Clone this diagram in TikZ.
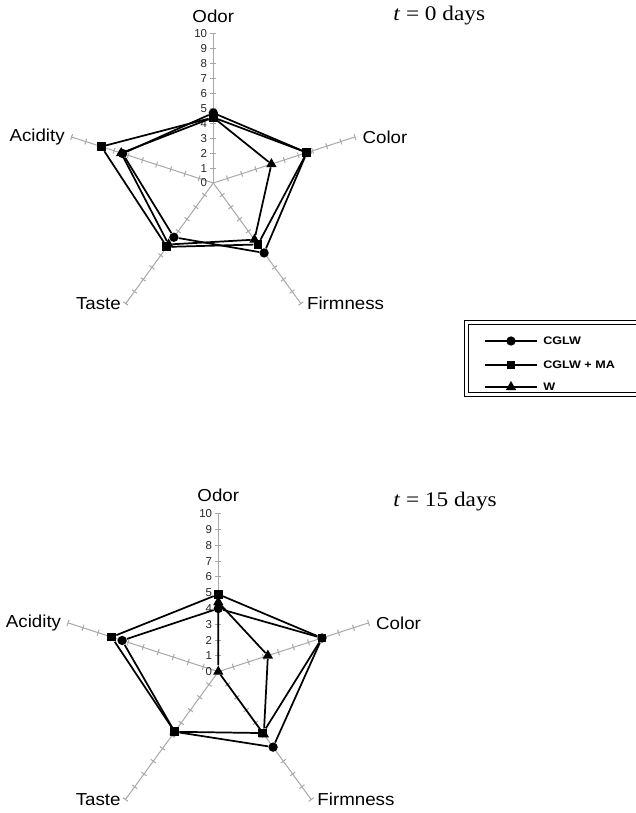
\documentclass[tikz,border=0pt]{standalone}
\usepackage{fontspec}
\setmainfont{Liberation Sans}
\newfontfamily\labfont[FakeStretch = 1.08]{Liberation Sans}
\newfontfamily\legfont[FakeStretch = 1.15]{Liberation Sans}
\newfontfamily\timesfont[FakeStretch = 1.12]{Liberation Serif}
\usepackage{tikz}
\usetikzlibrary{shapes.geometric}
\definecolor{axgray}{rgb}{0.66, 0.66, 0.66}
\tikzset{circ/.style = {fill, circle, inner sep = 0, minimum size = 7pt}}
\tikzset{sq/.style = {fill, rectangle, inner sep = 0, minimum size = 6.6pt}}
\tikzset{tri/.style = {fill, regular polygon, regular polygon sides = 3, inner sep = 0, minimum size = 9pt}}
\tikzset{axis/.style = {axgray, line width = 0.75pt}}
\tikzset{series/.style = {line width = 1.3pt}}
\tikzset{lab/.style = {inner sep = 0, font = \labfont\fontsize{13}{15}\selectfont}}
\tikzset{num/.style = {inner sep = 0, anchor = east, xshift = -4.5pt, black!85, font = \fontsize{8.6}{10}\selectfont}}
\tikzset{ttl/.style = {inner sep = 0, anchor = base west, font = \timesfont\fontsize{15.6}{18}\selectfont}}
\tikzset{legtext/.style = {inner sep = 0, anchor = west, font = \legfont\bfseries\fontsize{8.2}{10}\selectfont}}

% axes, ticks, scale and labels of one chart; #1 prefixes the node names
\newcommand{\radarframe}[1]{%
  \foreach \a in {90, 18, -54, -126, 162} {
    \begin{scope}[rotate = \a]
      \draw [axis] (0, 0) -- (10, 0);
      \foreach \i in {1, ..., 10} \draw [axis] (\i, -0.2) -- (\i, 0.2);
    \end{scope}
  }
  \foreach \i in {0, ..., 10} \node [num] (#1n\i) at (0, \i) {\i};
  \node [lab, anchor = base] (#1odor) at (0, 10.8) {Odor};
  \node [lab, anchor = west, xshift = 5.5pt] (#1color) at (18:10) {Color};
  \node [lab, anchor = west, xshift = 4.5pt] (#1firm) at (-54:10) {Firmness};
  \node [lab, anchor = east, xshift = -3.5pt] (#1taste) at (-126:10) {Taste};
  \node [lab, anchor = east, xshift = -5pt] (#1acid) at (162:10) {Acidity};
}

\begin{document}
\begin{tikzpicture}[x = 0.75pt, y = 0.75pt]
  \useasboundingbox (0, 0) rectangle (635, -813);

  % t = 0 days
  \begin{scope}[shift = {(213.3, -183)}, x = 11.175pt, y = 11.175pt]
    \radarframe{t}
    \node [tri] (tt1) at (90:4.4) {};
    \node [tri] (tt2) at (18:4.1) {};
    \node [tri] (tt3) at (-54:4.7) {};
    \node [tri] (tt4) at (-126:5.1) {};
    \node [tri] (tt5) at (162:6.5) {};
    \node [sq] (ts1) at (90:4.4) {};
    \node [sq] (ts2) at (18:6.6) {};
    \node [sq] (ts3) at (-54:5.1) {};
    \node [sq] (ts4) at (-126:5.3) {};
    \node [sq] (ts5) at (162:7.9) {};
    \node [circ] (tc1) at (90:4.7) {};
    \node [circ] (tc2) at (18:6.6) {};
    \node [circ] (tc3) at (-54:5.8) {};
    \node [circ] (tc4) at (-126:4.5) {};
    \node [circ] (tc5) at (162:6.4) {};
    \draw [series] (tc1) -- (tc2) -- (tc3) -- (tc4) -- (tc5) -- (tc1);
    \draw [series] (ts1) -- (ts2) -- (ts3) -- (ts4) -- (ts5) -- (ts1);
    \draw [series] (tt1) -- (tt2) -- (tt3) -- (tt4) -- (tt5) -- (tt1);
  \end{scope}
  \node [ttl] (ttitle) at (393, -20.7) {\textit{t} = 0 days};

  % t = 15 days
  \begin{scope}[shift = {(218.3, -671.7)}, x = 11.85pt, y = 11.85pt]
    \radarframe{b}
    \node [tri] (bt1) at (90:4.4) {};
    \node [tri] (bt2) at (18:3.3) {};
    \node [tri] (bt3) at (-54:4.9) {};
    \node [tri] (bt4) at (0, 0) {};
    \node [sq] (bs1) at (90:4.9) {};
    \node [sq] (bs2) at (18:6.9) {};
    \node [sq] (bs3) at (-54:4.8) {};
    \node [sq] (bs4) at (-126:4.7) {};
    \node [sq] (bs5) at (162:7.1) {};
    \node [circ] (bc1) at (90:4.0) {};
    \node [circ] (bc2) at (18:6.9) {};
    \node [circ] (bc3) at (-54:5.9) {};
    \node [circ] (bc4) at (-126:4.7) {};
    \node [circ] (bc5) at (162:6.4) {};
    \draw [series] (bc1) -- (bc2) -- (bc3) -- (bc4) -- (bc5) -- (bc1);
    \draw [series] (bs1) -- (bs2) -- (bs3) -- (bs4) -- (bs5) -- (bs1);
    \draw [series] (bt1) -- (bt2) -- (bt3) -- (bt4) -- (bt1);
  \end{scope}
  \node [ttl] (btitle) at (393, -506.7) {\textit{t} = 15 days};

  % legend
  \draw [double, double distance = 2.2pt, line width = 0.6pt] (466.5, -322.5) rectangle (660, -394.5);
  \coordinate (l1a) at (485, -341);
  \coordinate (l1b) at (537, -341);
  \coordinate (l2a) at (485, -365);
  \coordinate (l2b) at (537, -365);
  \coordinate (l3a) at (485, -387);
  \coordinate (l3b) at (537, -387);
  \draw [line width = 1pt] (l1a) -- (l1b);
  \draw [line width = 1pt] (l2a) -- (l2b);
  \draw [line width = 1pt] (l3a) -- (l3b);
  \node [circ] (lc) at (511, -341) {};
  \node [sq] (ls) at (511, -365) {};
  \node [tri] (lt) at (511, -387) {};
  \node [legtext] (lctext) at (543, -341) {CGLW};
  \node [legtext] (lstext) at (543, -365) {CGLW + MA};
  \node [legtext] (lttext) at (543, -387) {W};
\end{tikzpicture}
\end{document}
